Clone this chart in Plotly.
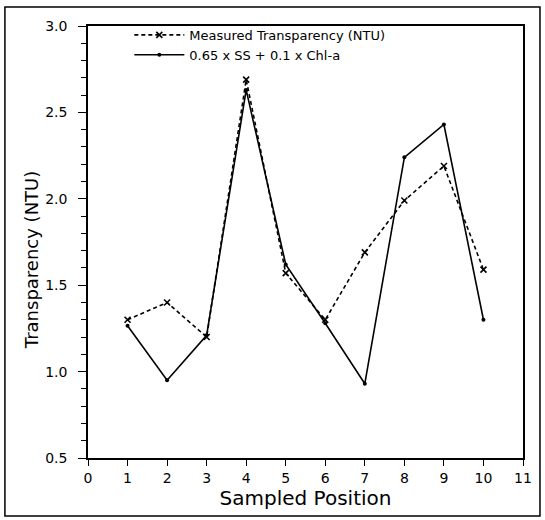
import plotly.graph_objects as go

positions = [1, 2, 3, 4, 5, 6, 7, 8, 9, 10]
measured = [1.30, 1.40, 1.20, 2.69, 1.57, 1.30, 1.69, 1.99, 2.19, 1.59]
model = [1.265, 0.95, 1.21, 2.63, 1.62, 1.28, 0.93, 2.24, 2.43, 1.30]

name_measured = "Measured Transparency (NTU)"
name_model = "0.65 x SS + 0.1 x Chl-a"
x_title = "Sampled Position"
y_title = "Transparency (NTU)"
x_ticks = list(range(0, 12))
y_ticks = [0.5, 1.0, 1.5, 2.0, 2.5, 3.0]

FONT = "DejaVu Sans"

fig = go.Figure()
fig.add_trace(go.Scatter(
    x=positions, y=measured, name=name_measured, mode="lines+markers",
    line=dict(color="black", width=1.6, dash="4px,3px"),
    marker=dict(symbol="x-thin", size=6, color="black", line=dict(color="black", width=1.6)),
))
fig.add_trace(go.Scatter(
    x=positions, y=model, name=name_model, mode="lines+markers",
    line=dict(color="black", width=1.6),
    marker=dict(symbol="circle", size=4, color="black"),
))

fig.update_layout(
    width=545, height=520,
    margin=dict(l=88, r=22, t=26, b=62),
    paper_bgcolor="white", plot_bgcolor="white",
    font=dict(family=FONT, color="black", size=13),
    showlegend=True,
    legend=dict(
        x=0.095, y=1.014, xanchor="left", yanchor="top",
        bgcolor="rgba(0,0,0,0)", borderwidth=0,
        font=dict(family=FONT, size=13, color="black"),
        itemwidth=50, tracegroupgap=0,
    ),
    xaxis=dict(
        range=[0, 11], tickvals=x_ticks, ticktext=[str(v) for v in x_ticks],
        showline=True, linecolor="black", linewidth=1.5, mirror=True,
        ticks="outside", ticklen=6, tickwidth=1.2, tickcolor="black",
        showgrid=False, zeroline=False,
        tickfont=dict(family=FONT, size=14),
        title=dict(text=x_title, font=dict(family=FONT, size=20), standoff=2),
    ),
    yaxis=dict(
        range=[0.5, 3.0], tickvals=y_ticks, ticktext=["%.1f" % v for v in y_ticks],
        showline=True, linecolor="black", linewidth=1.5, mirror=True,
        ticks="outside", ticklen=8, tickwidth=1.2, tickcolor="black",
        minor=dict(dtick=0.1, ticks="outside", ticklen=5, tickwidth=1, tickcolor="black", showgrid=False),
        showgrid=False, zeroline=False,
        tickfont=dict(family=FONT, size=14),
        ticklabelstandoff=8,
    ),
    annotations=[dict(
        text=y_title, xref="paper", yref="paper", x=-0.131, y=0.458,
        textangle=-90, showarrow=False, xanchor="center", yanchor="middle",
        font=dict(family=FONT, size=18, color="black"),
    )],
    shapes=[dict(
        type="rect", xref="paper", yref="paper",
        x0=-0.191, x1=1.039, y0=-0.134, y1=1.044,
        line=dict(color="black", width=1.5), fillcolor="rgba(0,0,0,0)", layer="above",
    )],
)

fig.write_html(
    "out.html",
    config={"displayModeBar": False},
    post_script="document.body.style.margin='0px';document.body.style.overflow='hidden';",
)
